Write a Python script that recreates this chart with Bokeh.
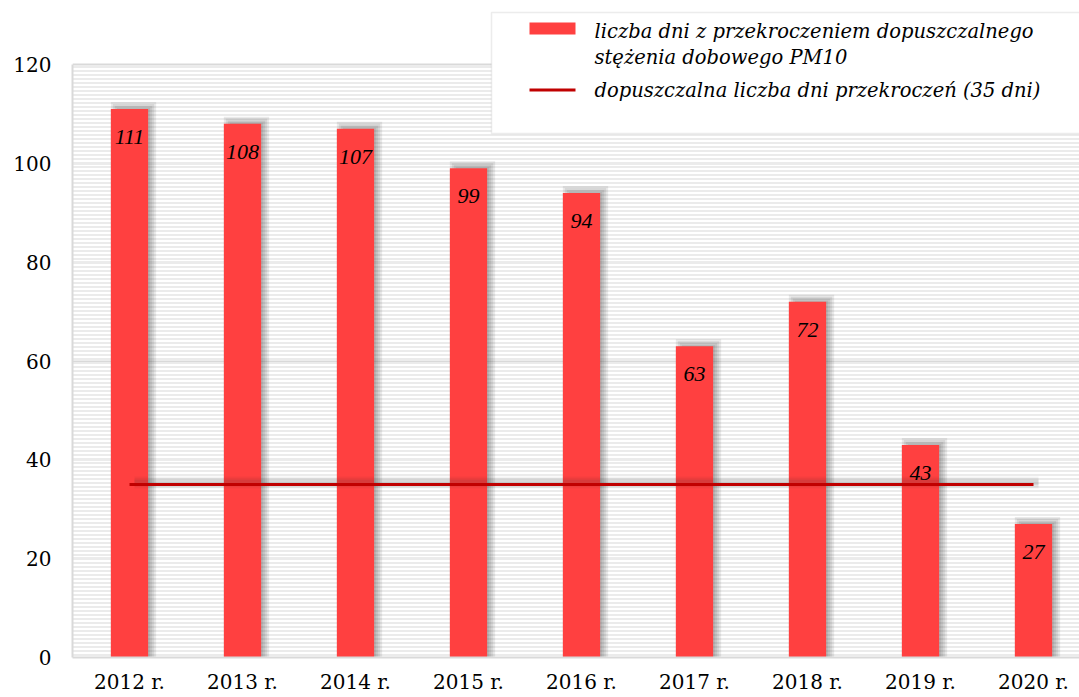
from bokeh.plotting import figure
from bokeh.models import (Range1d, FixedTicker, ColumnDataSource, LabelSet, Label,
                          BoxAnnotation)
from bokeh.embed import file_html
from bokeh.resources import INLINE

# ---------------- data ----------------
years = ["2012 r.", "2013 r.", "2014 r.", "2015 r.", "2016 r.",
         "2017 r.", "2018 r.", "2019 r.", "2020 r."]
days_exceeded = [111, 108, 107, 99, 94, 63, 72, 43, 27]
allowed_days = 35
y_ticks = [0, 20, 40, 60, 80, 100, 120]
legend_bar = ["liczba dni z przekroczeniem dopuszczalnego", "stężenia dobowego PM10"]
legend_line = "dopuszczalna liczba dni przekroczeń (35 dni)"

# ---------------- layout helpers (pixel geometry of the page) ----------------
CAT_PX = 113.0          # px per category
X0_PX = 129.0           # x of first category centre
Y0_PX = 657.0           # y of value 0
PX_PER_UNIT = 593.0 / 120.0


def ix(px):
    return (px - X0_PX) / CAT_PX


def iy(py):
    return (Y0_PX - py) / PX_PER_UNIT


W, H = 1079, 697
pos = list(range(len(years)))

p = figure(width=W, height=H, output_backend="svg", toolbar_location=None,
           x_range=Range1d(ix(72), ix(1079)), y_range=Range1d(0, iy(0)),
           min_border_left=72, min_border_right=0, min_border_top=0,
           min_border_bottom=40)
p.outline_line_color = None
p.background_fill_color = "white"
p.border_fill_color = "white"

FONT = "DejaVu Serif"

# axes
for ax in (p.xaxis, p.yaxis):
    ax.major_tick_line_color = None
    ax.minor_tick_line_color = None
    ax.major_tick_out = 0
    ax.major_tick_in = 0
    ax.minor_tick_out = 0
    ax.minor_tick_in = 0
    ax.axis_line_color = "#d9d9d9"
    ax.axis_line_width = 2
    ax.major_label_text_font = FONT
    ax.major_label_text_font_size = "20px"
    ax.major_label_text_color = "black"

p.xaxis.ticker = FixedTicker(ticks=pos)
p.xaxis.major_label_overrides = {i: y for i, y in enumerate(years)}
p.xaxis.major_label_standoff = 12

p.yaxis.ticker = FixedTicker(ticks=y_ticks)
p.yaxis.bounds = (0, 120)
p.yaxis.major_label_standoff = 21

p.xgrid.grid_line_color = None
p.ygrid.ticker = FixedTicker(ticks=y_ticks)
p.ygrid.grid_line_color = "#d9d9d9"
p.ygrid.grid_line_width = 2

# striped plot background
p.quad(left=ix(72), right=ix(1079), bottom=0, top=120, fill_alpha=0, line_alpha=0,
       hatch_pattern="horizontal_line", hatch_color="#ebebeb", hatch_scale=4,
       hatch_weight=2)

# bar shadows
BW = 0.33
dx = 4 / CAT_PX
dy = 3 / PX_PER_UNIT
for b in (1, 3, 5, 7):
    p.vbar(x=[x + dx for x in pos], top=[v + dy + (b - 3) / PX_PER_UNIT for v in days_exceeded],
           width=BW + 2 * (b - 3) / CAT_PX, bottom=0,
           fill_color="#303030", fill_alpha=0.1, line_alpha=0)

# bars
p.vbar(x=pos, top=days_exceeded, width=BW, bottom=0,
       fill_color="#FF4040", line_alpha=0)

# limit line shadow + line
for w, a in ((12, 0.05), (8, 0.07), (5, 0.08)):
    p.line(x=[x + 5 / CAT_PX for x in pos], y=[allowed_days + 2 / PX_PER_UNIT] * len(pos),
           line_color="#303030", line_width=w, line_alpha=a)
p.line(x=pos, y=[allowed_days] * len(pos), line_color="#C00000", line_width=3)

# data labels
src = ColumnDataSource(dict(x=pos, y=days_exceeded, t=[str(v) for v in days_exceeded]))
p.add_layout(LabelSet(x="x", y="y", text="t", source=src, y_offset=-28,
                      text_align="center", text_baseline="middle",
                      text_font=FONT, text_font_style="italic",
                      text_font_size="22px", text_color="black"))

# legend (drawn manually)
p.add_layout(BoxAnnotation(left=ix(491), right=ix(1120), top=iy(12), bottom=iy(133),
                           fill_color="white", fill_alpha=1,
                           line_color="#bfbfbf", line_width=1.5))
p.add_layout(BoxAnnotation(left=ix(529), right=ix(575), top=iy(22), bottom=iy(34),
                           fill_color="#FF4040", fill_alpha=1, line_alpha=0))
p.add_layout(BoxAnnotation(left=ix(529), right=ix(575), top=iy(88), bottom=iy(91),
                           fill_color="#C00000", fill_alpha=1, line_alpha=0))
for txt, mid in ((legend_bar[0], 31), (legend_bar[1], 57), (legend_line, 90)):
    p.add_layout(Label(x=ix(594), y=iy(mid), text=txt, text_baseline="middle",
                       text_align="left", text_font=FONT, text_font_style="italic",
                       text_font_size="19.5px", text_color="black"))

open("out.html", "w").write(file_html(p, INLINE))
